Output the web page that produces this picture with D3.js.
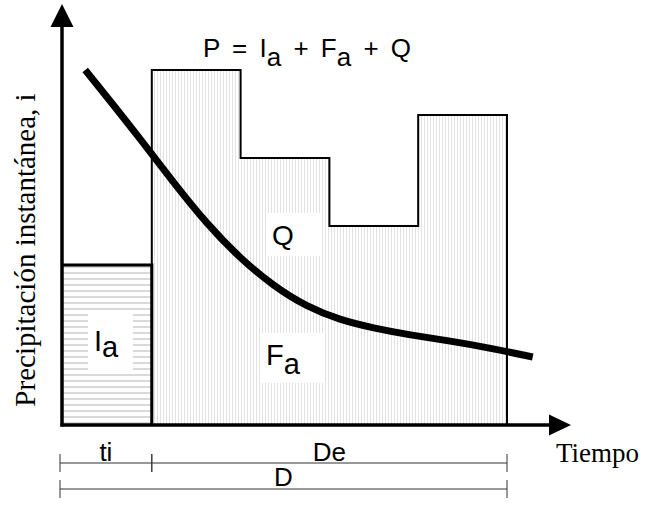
<!DOCTYPE html>
<html><head><meta charset="utf-8">
<script src="https://cdn.jsdelivr.net/npm/d3@7"></script>
<style>html,body{margin:0;padding:0;background:#fff}</style>
</head><body>
<svg id="c" width="648" height="520"></svg>
<script>
// ---- data ----
const periodEdges = [0, 1, 2, 3, 4, 5];          // time units: [0,1] = ti, [1,5] = De
const initialAbstraction = 160;                  // Ia intensity during ti
const rainfall = [355, 267, 199, 310];           // rain intensity per period in De
const curveT = [0.25, 0.55, 0.87, 1.24, 1.62, 1.99, 2.37, 2.75, 3.12, 3.49, 3.91, 4.36, 4.81, 5.29];
const curveI = [355, 322, 286, 243, 201, 167, 139, 118, 105, 97, 90, 84, 77, 68];
const spanLabels = ["ti", "De", "D"];
const spanFrom = [0, 1, 0];
const spanTo = [1, 5, 5];

const svg = d3.select("#c");
const x = d3.scaleLinear().domain([0, 5]).range([63, 507]);
const y = d3.scaleLinear().domain([0, 420]).range([425, 5]);

const defs = svg.append("defs");
const ph = defs.append("pattern").attr("id","hatchH").attr("patternUnits","userSpaceOnUse")
  .attr("width",6).attr("height",6);
ph.append("line").attr("x1",0).attr("x2",6).attr("y1",3).attr("y2",3)
  .attr("stroke","#cfcfcf").attr("stroke-width",1.6);
const pv = defs.append("pattern").attr("id","hatchV").attr("patternUnits","userSpaceOnUse")
  .attr("width",3).attr("height",6);
pv.append("line").attr("x1",1.5).attr("x2",1.5).attr("y1",0).attr("y2",6)
  .attr("stroke","#e2e2e2").attr("stroke-width",1);

// Ia block
svg.append("rect").attr("x", x(0)).attr("y", y(initialAbstraction))
  .attr("width", x(1)-x(0)).attr("height", y(0)-y(initialAbstraction))
  .attr("fill","url(#hatchH)");

// rainfall bars fill
rainfall.forEach((v,i)=>{
  svg.append("rect").attr("x", x(periodEdges[i+1])).attr("y", y(v))
    .attr("width", x(periodEdges[i+2])-x(periodEdges[i+1])).attr("height", y(0)-y(v))
    .attr("fill","url(#hatchV)");
});

// label backgrounds
function labelBox(x0,y0,w,h){ svg.append("rect").attr("x",x0).attr("y",y0).attr("width",w).attr("height",h).attr("fill","#fff"); }
labelBox(88,313,45,57);
labelBox(267,213,55,43);
labelBox(262,333,62,50);

// Ia outline
svg.append("path").attr("d", d3.line()([[x(0), y(initialAbstraction)],[x(1), y(initialAbstraction)],[x(1), y(0)]]))
  .attr("fill","none").attr("stroke","#000").attr("stroke-width",3);

// bars outline (stepped)
const outline = [[x(periodEdges[1]), y(0)]];
rainfall.forEach((v,i)=>{ outline.push([x(periodEdges[i+1]), y(v)]); outline.push([x(periodEdges[i+2]), y(v)]); });
outline.push([x(periodEdges[5]), y(0)]);
svg.append("path").attr("d", d3.line()(outline)).attr("fill","none").attr("stroke","#000").attr("stroke-width",2);

// infiltration curve
svg.append("path").datum(curveT.map((t,i)=>[t,curveI[i]]))
  .attr("d", d3.line().x(d=>x(d[0])).y(d=>y(d[1])).curve(d3.curveBasis))
  .attr("fill","none").attr("stroke","#000").attr("stroke-width",7);

// axes
svg.append("line").attr("x1",62).attr("y1",y(0)+1.5).attr("x2",62).attr("y2",24)
  .attr("stroke","#000").attr("stroke-width",3.5);
svg.append("path").attr("d","M62,4 L50.5,27 L73.5,27 Z").attr("fill","#000");
svg.append("line").attr("x1",60.5).attr("y1",y(0)).attr("x2",552).attr("y2",y(0))
  .attr("stroke","#000").attr("stroke-width",3.5);
svg.append("path").attr("d",`M571,${y(0)} L549,${y(0)-10.5} L549,${y(0)+10.5} Z`).attr("fill","#000");

// texts
const sans = "Liberation Sans, Arial, sans-serif";
const serif = "Liberation Serif, Times New Roman, serif";
function sub(xp, yp, main, s, size, dy){
  const t = svg.append("text").attr("x",xp).attr("y",yp).attr("font-family",sans).attr("font-size",size).attr("fill","#000");
  t.append("tspan").text(main);
  t.append("tspan").attr("dy",dy).text(s);
  return t;
}
const title = svg.append("text").attr("x",203).attr("y",57).attr("font-family",sans).attr("font-size",26)
  .attr("word-spacing",5).attr("fill","#000");
title.append("tspan").text("P = I");
title.append("tspan").attr("dy",9).text("a");
title.append("tspan").attr("dy",-9).text(" + F");
title.append("tspan").attr("dy",9).text("a");
title.append("tspan").attr("dy",-9).text(" + Q");

sub(94,351,"I","a",29,6);
svg.append("text").attr("x",283).attr("y",245).attr("text-anchor","middle").attr("font-family",sans).attr("font-size",28).text("Q");
sub(266,365,"F","a",29,9);

svg.append("text").attr("transform","translate(35,250) rotate(-90)").attr("text-anchor","middle")
  .attr("font-family",serif).attr("font-size",29).text("Precipitación instantánea, i");
svg.append("text").attr("x",556).attr("y",462).attr("font-family",serif).attr("font-size",27).text("Tiempo");

// dimension lines
const rowY = [463, 463, 489];
const textY = [461, 461, 486];
spanLabels.forEach((lab,i)=>{
  const x0 = i===1 ? x(spanFrom[i]) : 60, x1 = x(spanTo[i]);
  svg.append("line").attr("x1",x0).attr("x2",x1).attr("y1",rowY[i]).attr("y2",rowY[i]).attr("stroke","#333").attr("stroke-width",1);
  [x0,x1].forEach(xx=>svg.append("line").attr("x1",xx).attr("x2",xx).attr("y1",rowY[i]-9).attr("y2",rowY[i]+9).attr("stroke","#333").attr("stroke-width",1));
  svg.append("text").attr("x",(x0+x1)/2).attr("y",textY[i]).attr("text-anchor","middle")
    .attr("font-family",sans).attr("font-size",26).text(lab);
});
</script>
</body></html>
